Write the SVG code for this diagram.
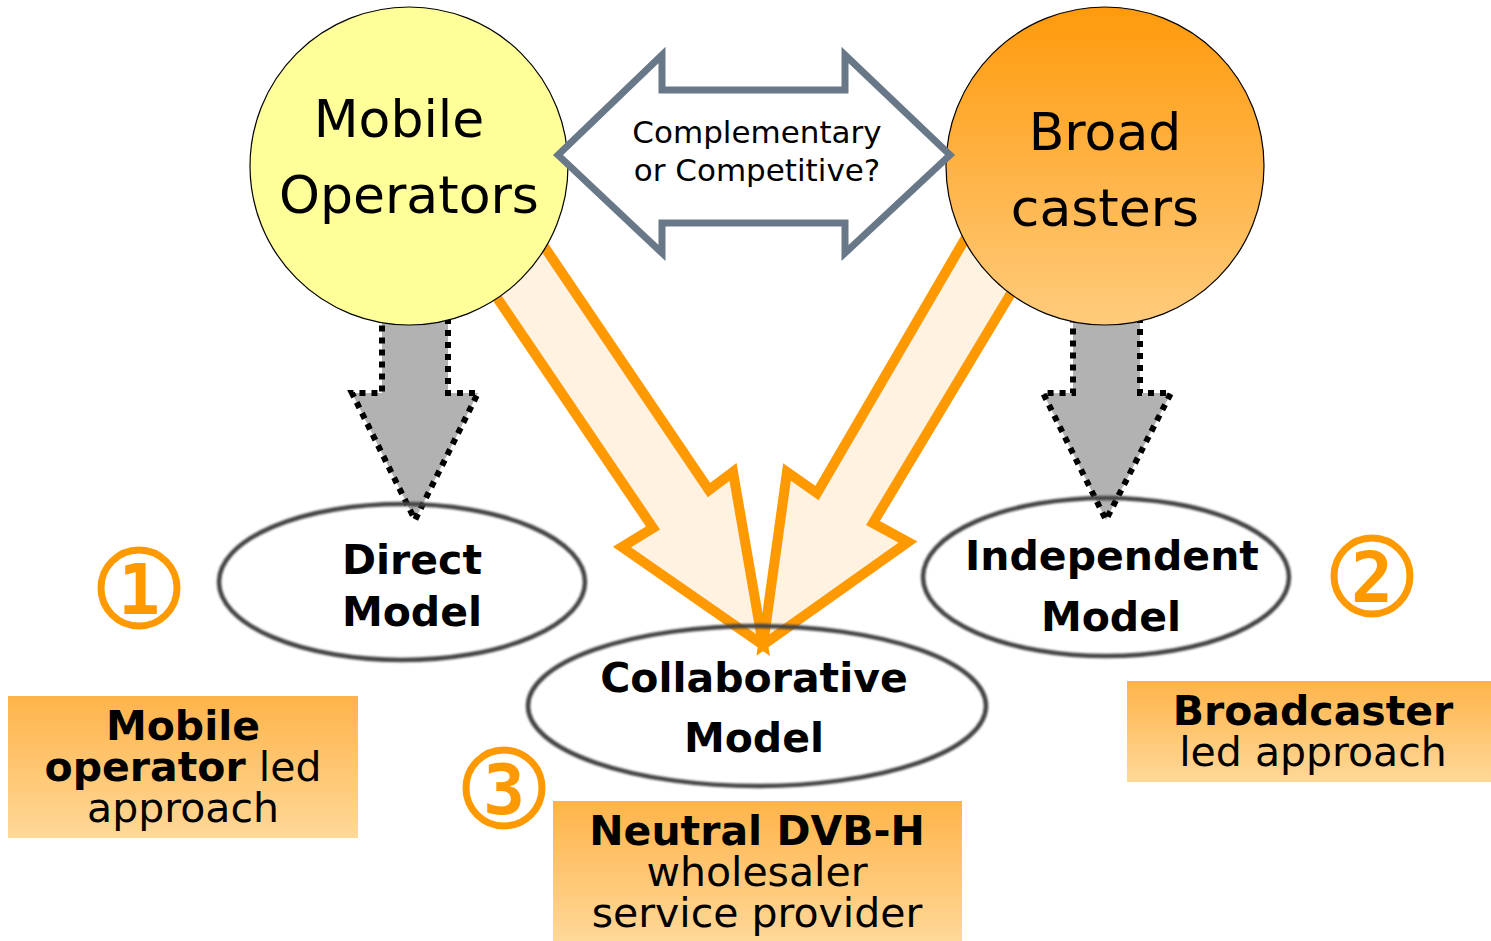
<svg xmlns="http://www.w3.org/2000/svg" width="1491" height="941" viewBox="0 0 1491 941">
  <defs>
    <linearGradient id="gBroad" x1="0" y1="0" x2="0" y2="1">
      <stop offset="0" stop-color="#ff9a0c"/>
      <stop offset="1" stop-color="#ffcb7c"/>
    </linearGradient>
    <linearGradient id="gBox" x1="0" y1="0" x2="0" y2="1">
      <stop offset="0" stop-color="#ffb44a"/>
      <stop offset="1" stop-color="#ffd898"/>
    </linearGradient>
    <filter id="soft" x="-5%" y="-10%" width="110%" height="120%">
      <feGaussianBlur stdDeviation="0.9"/>
    </filter>
  </defs>
  <style>
    .circ { stroke: #000; stroke-width: 1.2; }
    .big { font-family: "DejaVu Sans", Verdana, sans-serif; font-size: 52px; fill: #000; text-anchor: middle; }
    .q { font-family: "DejaVu Sans", Verdana, sans-serif; font-size: 31px; fill: #000; text-anchor: middle; }
    .model { font-family: "DejaVu Sans", Verdana, sans-serif; font-size: 41px; font-weight: bold; fill: #000; text-anchor: middle; }
    .box { font-family: "DejaVu Sans", Verdana, sans-serif; font-size: 41px; fill: #000; text-anchor: middle; }
    .b { font-weight: bold; }
    .oval { fill: none; stroke: #444; stroke-width: 4.5; filter: url(#soft); }
    .grey { fill: #b2b2b2; stroke: #000; stroke-width: 6; stroke-dasharray: 6 6; }
    .orange { fill: #fff0dc; fill-opacity: 0.85; stroke: #ff9900; stroke-width: 10; stroke-linejoin: miter; stroke-miterlimit: 10; }
    .num circle { fill: none; stroke: #ff9900; stroke-width: 7; }
    .num text { font-family: "DejaVu Sans Mono", "Liberation Mono", monospace; font-size: 70px; font-weight: bold; fill: #ff9900; text-anchor: middle; }
  </style>

  <!-- connectors -->
  <g id="connectors">
    <polygon class="grey" points="382,300 448,300 448,393 478,393 415,520 352,393 382,393"/>
    <polygon class="grey" points="1073,300 1140,300 1140,393 1171,393 1106,520 1043,393 1073,393"/>
    <polygon class="orange" points="514,202 709,490 733,472 763,645 622,547 653,528 466,252"/>
    <polygon class="orange" points="993,191 817,493 787,472 763,645 908,542 873,523 1040,245"/>
  </g>

  <!-- actors -->
  <g id="mobile-operators">
    <circle class="circ" cx="409" cy="166" r="159" fill="#ffff99"/>
    <text class="big" x="399" y="137">Mobile</text>
    <text class="big" x="409" y="213">Operators</text>
  </g>
  <g id="broadcasters">
    <circle class="circ" cx="1105" cy="166" r="159" fill="url(#gBroad)"/>
    <text class="big" x="1105" y="150">Broad</text>
    <text class="big" x="1105" y="226">casters</text>
  </g>

  <!-- two-way relation between the actors -->
  <g id="relation">
    <polygon points="558,155 662,55 662,90 845,90 845,55 950,155 845,253 845,223 662,223 662,253" fill="#fff" stroke="#687888" stroke-width="7" stroke-linejoin="miter"/>
    <text class="q" x="757" y="143">Complementary</text>
    <text class="q" x="757" y="181">or Competitive?</text>
  </g>

  <!-- business models -->
  <g id="direct-model">
    <ellipse class="oval" cx="402" cy="582" rx="183" ry="78"/>
    <text class="model" x="412" y="574">Direct</text>
    <text class="model" x="412" y="626">Model</text>
  </g>
  <g id="collaborative-model">
    <ellipse class="oval" cx="757" cy="706" rx="229" ry="80"/>
    <text class="model" x="754" y="692">Collaborative</text>
    <text class="model" x="754" y="752">Model</text>
  </g>
  <g id="independent-model">
    <ellipse class="oval" cx="1106" cy="577" rx="183" ry="79"/>
    <text class="model" x="1112" y="570">Independent</text>
    <text class="model" x="1111" y="631">Model</text>
  </g>

  <!-- numbered markers -->
  <g id="num1" class="num">
    <circle cx="139" cy="588" r="38"/>
    <text x="139" y="614">1</text>
  </g>
  <g id="num2" class="num">
    <circle cx="1372" cy="576" r="38"/>
    <text x="1372" y="602">2</text>
  </g>
  <g id="num3" class="num">
    <circle cx="504" cy="788" r="38"/>
    <text x="504" y="814">3</text>
  </g>

  <!-- approach labels -->
  <g id="box-mobile">
    <rect x="8" y="696" width="350" height="142" fill="url(#gBox)"/>
    <text class="box b" x="183" y="740">Mobile</text>
    <text class="box" x="183" y="781"><tspan class="b">operator</tspan> led</text>
    <text class="box" x="183" y="822">approach</text>
  </g>
  <g id="box-broadcaster">
    <rect x="1127" y="681" width="364" height="101" fill="url(#gBox)"/>
    <text class="box b" x="1313" y="725">Broadcaster</text>
    <text class="box" x="1313" y="766">led approach</text>
  </g>
  <g id="box-neutral">
    <rect x="553" y="801" width="409" height="140" fill="url(#gBox)"/>
    <text class="box b" x="757" y="845">Neutral DVB-H</text>
    <text class="box" x="757" y="886">wholesaler</text>
    <text class="box" x="757" y="927">service provider</text>
  </g>
</svg>
